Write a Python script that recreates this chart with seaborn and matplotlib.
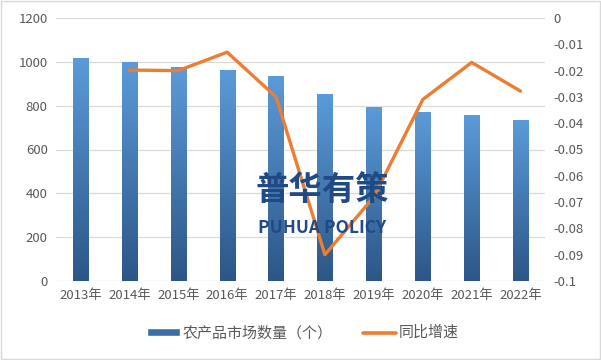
import numpy as np
import pandas as pd
import matplotlib
matplotlib.use('Agg')
import matplotlib.pyplot as plt
import seaborn as sns
from matplotlib.colors import LinearSegmentedColormap
from matplotlib.patches import Patch
from matplotlib.lines import Line2D

# Data
years = ['2013年', '2014年', '2015年', '2016年', '2017年',
         '2018年', '2019年', '2020年', '2021年', '2022年']
market_counts = [1017, 999, 976, 963, 935, 853, 794, 771, 757, 734]
growth_rate = [-0.0198, -0.0200, -0.0130, -0.0300, -0.0900,
               -0.0680, -0.0310, -0.0169, -0.0278]

bar_label = '农产品市场数量（个）'
line_label = '同比增速'

sns.set_style('white')
plt.rcParams['font.family'] = ['Noto Sans CJK SC', 'DejaVu Sans']

fig = plt.figure(figsize=(6.01, 3.6), dpi=100)
ax = fig.add_axes([56 / 601, 1 - 281 / 360, 489 / 601, 263 / 360])

bars_df = pd.DataFrame({'year': years, 'count': market_counts})
sns.barplot(data=bars_df, x='year', y='count', color='#4F8FD0',
            width=0.31, ax=ax, zorder=3)

# Vertical gradient for each bar (light top, dark bottom)
grad_cmap = LinearSegmentedColormap.from_list('bar_grad', ['#2C5687', '#5B9BD9'])
grad = np.linspace(0, 1, 256).reshape(-1, 1)
for patch in ax.patches:
    x0, y0 = patch.get_x(), patch.get_y()
    w, h = patch.get_width(), patch.get_height()
    im = ax.imshow(grad, cmap=grad_cmap, origin='lower', aspect='auto',
                   extent=[x0, x0 + w, y0, y0 + h], zorder=3)
    im.set_clip_path(patch)
    patch.set_facecolor('none')

ax.set_xlim(-0.5, len(years) - 0.5)
ax.set_ylim(0, 1200)
ax.set_yticks(range(0, 1201, 200))
ax.yaxis.grid(True, color='#D9D9D9', linewidth=0.9, zorder=0)
ax.set_axisbelow(True)
ax.set_xlabel('')
ax.set_ylabel('')
for s in ['left', 'right', 'top', 'bottom']:
    ax.spines[s].set_visible(False)
ax.tick_params(axis='both', length=0, labelsize=9.5, colors='#595959', pad=6)

# Secondary axis for the growth rate
ax2 = ax.twinx()
line_df = pd.DataFrame({'pos': range(1, len(years)), 'rate': growth_rate})
sns.lineplot(data=line_df, x='pos', y='rate', color='#ED7D31',
             linewidth=2.4, ax=ax2, zorder=4)
ax2.set_ylim(-0.1, 0)
ax2.set_yticks(np.round(np.arange(-0.1, 0.001, 0.01), 2))
ax2.set_yticklabels(['-0.1', '-0.09', '-0.08', '-0.07', '-0.06', '-0.05',
                     '-0.04', '-0.03', '-0.02', '-0.01', '0'])
ax2.set_xlim(-0.5, len(years) - 0.5)
ax2.set_xlabel('')
ax2.set_ylabel('')
for s in ['left', 'right', 'top', 'bottom']:
    ax2.spines[s].set_visible(False)
ax2.tick_params(axis='both', length=0, labelsize=9.5, colors='#595959', pad=6)

# Watermark
fig.text(322 / 601, 1 - 190 / 360, '普华有策', ha='center', va='center',
         fontsize=24, fontweight='bold', color='#1F4A86', zorder=10)
fig.text(322 / 601, 1 - 228 / 360, 'PUHUA POLICY', ha='center', va='center',
         fontsize=12.5, fontweight='bold', color='#1F4A86', zorder=10)

# Legend
handles = [Patch(facecolor='#3A6EA8', label=bar_label),
           Line2D([0], [0], color='#ED7D31', linewidth=2.6, label=line_label)]
fig.legend(handles=handles, loc='center', bbox_to_anchor=(303 / 601, 1 - 333 / 360),
           ncol=2, frameon=False, fontsize=10.8, handlelength=2.2,
           handleheight=0.45, columnspacing=2.0, handletextpad=0.2,
           labelcolor='#595959')

# Light border around the figure
fig.patches.append(plt.Rectangle((0.001, 0.002), 0.997, 0.995, transform=fig.transFigure,
                                 fill=False, edgecolor='#D9D9D9', linewidth=1))

fig.savefig('out.png', dpi=100)
